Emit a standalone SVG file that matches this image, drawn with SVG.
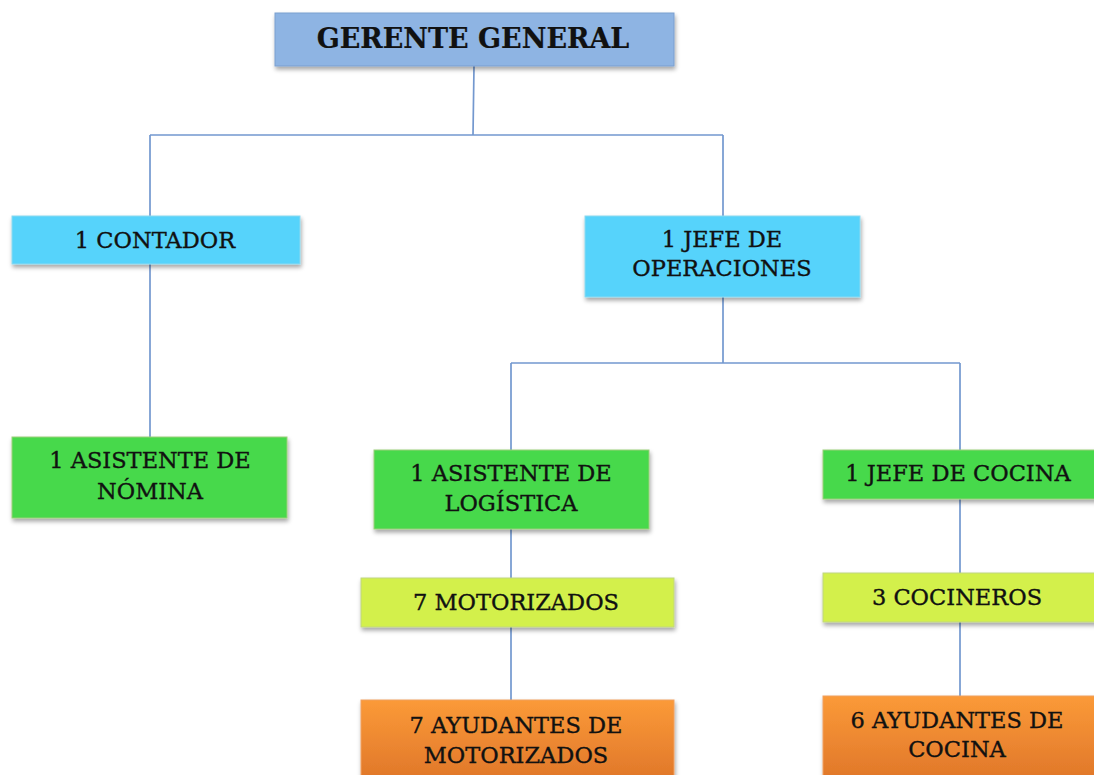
<svg xmlns="http://www.w3.org/2000/svg" width="1094" height="775" viewBox="0 0 1094 775">
  <defs>
    <filter id="shadow" x="-10%" y="-20%" width="120%" height="150%">
      <feDropShadow dx="1" dy="3" stdDeviation="2" flood-color="#000" flood-opacity="0.35"/>
    </filter>
    <linearGradient id="orange" x1="0" y1="0" x2="0" y2="1">
      <stop offset="0" stop-color="#FB9A38"/>
      <stop offset="1" stop-color="#E0772A"/>
    </linearGradient>
    <style>
      .box { filter: url(#shadow); stroke-width: 1; }
      .top { fill: #8EB4E3; stroke: #7B9FCF; }
      .cyan { fill: #57D3FB; stroke: #8CD9F0; }
      .green { fill: #46D94B; stroke: #9BCF7A; }
      .lime { fill: #D3F04C; stroke: #C0D680; }
      .orange { fill: url(#orange); stroke: #F0A060; }
      text { font-family: "DejaVu Serif", "Liberation Serif", serif; fill: #111; stroke: #111; stroke-width: 0.35; text-anchor: middle; font-size: 22.5px; }
      .title { font-weight: bold; font-size: 27px; stroke-width: 0.2; }
      .conn { fill: none; stroke: #7398CF; stroke-width: 1.7; }
    </style>
  </defs>
  <rect width="1094" height="775" fill="#fff"/>

  <g id="connectors">
    <path class="conn" d="M474 66 L473 135 M150 135 L723 135 M150 135 L150 216 M723 135 L723 216"/>
    <path class="conn" d="M150 264 L150 437"/>
    <path class="conn" d="M723 297 L723 363 M511 363 L960 363 M511 363 L511 450 M960 363 L960 450"/>
    <path class="conn" d="M511 529 L511 578 M511 627 L511 700"/>
    <path class="conn" d="M960 499 L960 573 M960 622 L960 696"/>
  </g>

  <g id="gerente-general">
    <rect class="box top" x="275" y="13" width="399" height="53"/>
    <text class="title" x="473" y="48">GERENTE GENERAL</text>
  </g>

  <g id="contador">
    <rect class="box cyan" x="12" y="216" width="288" height="48"/>
    <text x="155" y="248">1 CONTADOR</text>
  </g>

  <g id="jefe-operaciones">
    <rect class="box cyan" x="585" y="216" width="275" height="81"/>
    <text x="722" y="247">1 JEFE DE</text>
    <text x="722" y="276">OPERACIONES</text>
  </g>

  <g id="asistente-nomina">
    <rect class="box green" x="12" y="437" width="275" height="81"/>
    <text x="150" y="468">1 ASISTENTE DE</text>
    <text x="150" y="499">NÓMINA</text>
  </g>

  <g id="asistente-logistica">
    <rect class="box green" x="374" y="450" width="275" height="79"/>
    <text x="511" y="481">1 ASISTENTE DE</text>
    <text x="511" y="511">LOGÍSTICA</text>
  </g>

  <g id="jefe-cocina">
    <rect class="box green" x="823" y="450" width="275" height="49"/>
    <text x="958" y="481">1 JEFE DE COCINA</text>
  </g>

  <g id="motorizados">
    <rect class="box lime" x="361" y="578" width="313" height="49"/>
    <text x="516" y="610">7 MOTORIZADOS</text>
  </g>

  <g id="cocineros">
    <rect class="box lime" x="823" y="573" width="275" height="49"/>
    <text x="957" y="605">3 COCINEROS</text>
  </g>

  <g id="ayudantes-motorizados">
    <rect class="box orange" x="361" y="700" width="313" height="80"/>
    <text x="516" y="733">7 AYUDANTES DE</text>
    <text x="516" y="763">MOTORIZADOS</text>
  </g>

  <g id="ayudantes-cocina">
    <rect class="box orange" x="823" y="696" width="275" height="84"/>
    <text x="957" y="728">6 AYUDANTES DE</text>
    <text x="957" y="757">COCINA</text>
  </g>
</svg>
